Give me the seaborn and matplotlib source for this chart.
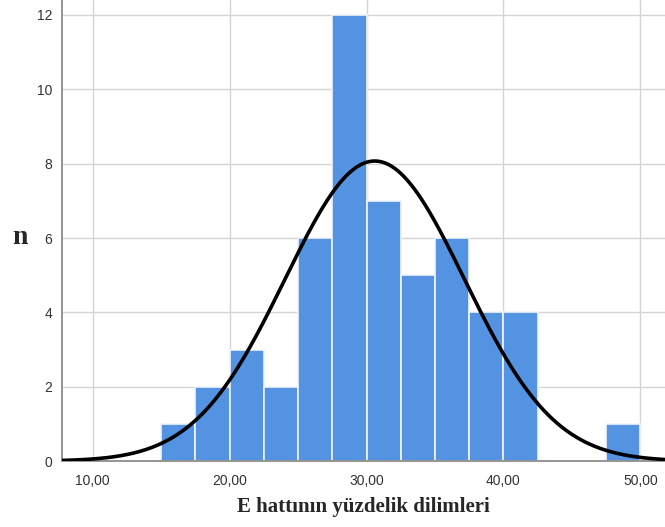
import numpy as np
import seaborn as sns
import matplotlib.pyplot as plt

# histogram bins (left edges, width 2.5) and counts
bin_left = [15.0, 17.5, 20.0, 22.5, 25.0, 27.5, 30.0, 32.5, 35.0, 37.5, 40.0, 42.5, 45.0, 47.5]
counts = [1, 2, 3, 2, 6, 12, 7, 5, 6, 4, 4, 0, 0, 1]
bin_width = 2.5

# fitted normal curve parameters (estimated)
mean = 30.6
sd = 6.55
n_total = sum(counts)

x_ticks = [10, 20, 30, 40, 50]
x_tick_labels = ['10,00', '20,00', '30,00', '40,00', '50,00']
y_ticks = [0, 2, 4, 6, 8, 10, 12]

sns.set_style('whitegrid')

fig = plt.figure(figsize=(6.65, 5.27), dpi=100)
ax = fig.add_axes([0.093, 0.125, 0.907, 0.875])

edges = bin_left + [bin_left[-1] + bin_width]
centers = [b + bin_width / 2 for b in bin_left]
sns.histplot(x=centers, weights=counts, bins=edges, color='#5493e2', alpha=1,
             edgecolor='#f0f4fa', linewidth=1.2, ax=ax, zorder=2)

xs = np.linspace(7.5, 52, 400)
ys = n_total * bin_width / (sd * np.sqrt(2 * np.pi)) * np.exp(-0.5 * ((xs - mean) / sd) ** 2)
sns.lineplot(x=xs, y=ys, color='black', linewidth=2.6, ax=ax, zorder=3)

ax.set_xlim(7.75, 51.8)
ax.set_ylim(0, 12.4)
ax.set_xticks(x_ticks)
ax.set_xticklabels(x_tick_labels)
ax.set_yticks(y_ticks)
ax.tick_params(axis='both', labelsize=10, colors='#333333', length=0)
ax.tick_params(axis='x', pad=9)
ax.tick_params(axis='y', pad=7)
for lab in ax.get_xticklabels() + ax.get_yticklabels():
    lab.set_family('Liberation Sans')

ax.grid(True, color='#d4d4d4', linewidth=1.0, zorder=0)
ax.set_axisbelow(True)
for s in ['top', 'right']:
    ax.spines[s].set_visible(False)
for s in ['left', 'bottom']:
    ax.spines[s].set_color('#8c8c8c')
    ax.spines[s].set_linewidth(1.3)

ax.set_xlabel('E hattının yüzdelik dilimleri', family='Liberation Serif',
              fontsize=15, fontweight='bold')
ax.xaxis.set_label_coords(0.5, -0.078)
ax.set_ylabel('n', family='Liberation Serif', fontsize=20, fontweight='bold',
              rotation=0, va='center', ha='center')
ax.yaxis.set_label_coords(-0.07, 0.485)

plt.savefig('out.png', dpi=100)
